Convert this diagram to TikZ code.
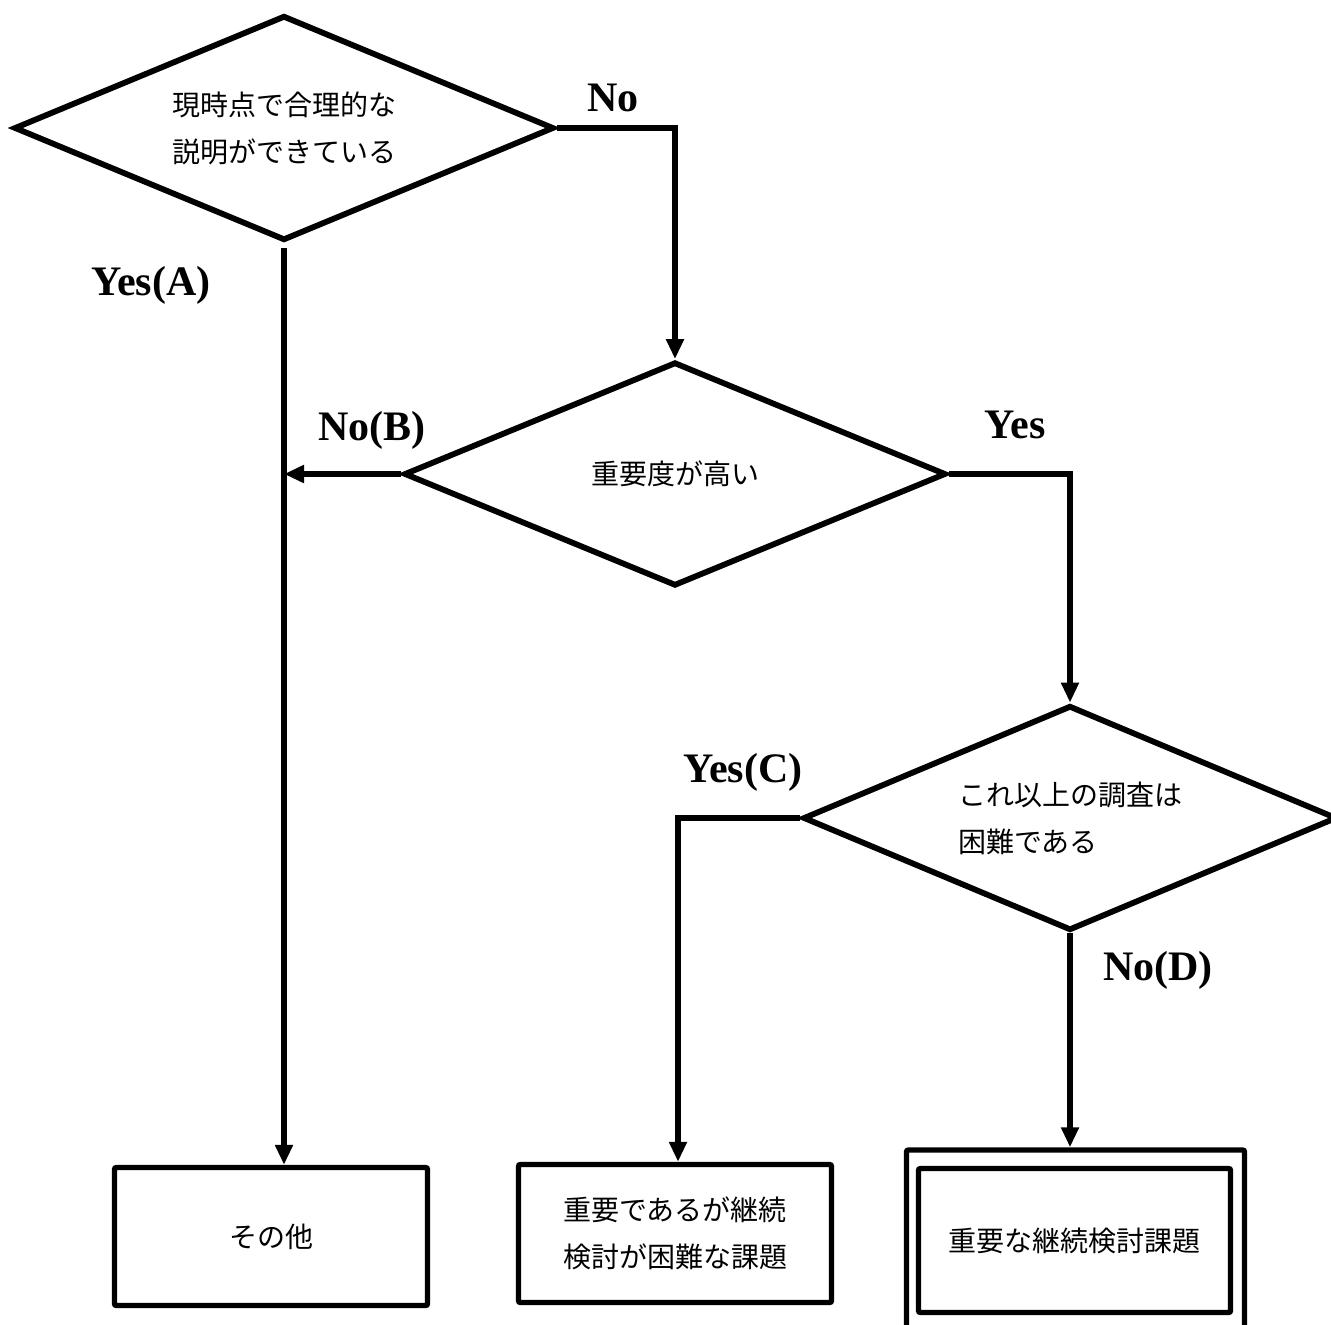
\documentclass[tikz,border=0pt]{standalone}
\usepackage{fontspec}
\newfontfamily\jp{Noto Sans CJK JP}
\newfontfamily\lbl{Liberation Serif}
\usetikzlibrary{shapes.geometric,arrows.meta}
\tikzset{
  dec/.style={draw,line width=2.9pt,shape=diamond,aspect=2.4,inner sep=0pt,
    font=\jp\fontsize{14pt}{23.5pt}\selectfont,align=left},
  endbox/.style={draw,line width=2.7pt,rectangle,rounded corners=1pt,inner sep=0pt,
    font=\jp\fontsize{14pt}{23.5pt}\selectfont,align=left},
  lab/.style={font=\lbl\bfseries\fontsize{21pt}{24pt}\selectfont,inner sep=0pt},
  arr/.style={line width=2.7pt,-{Triangle[length=10pt,width=8.5pt]}},
  conn/.style={line width=2.7pt}
}
\begin{document}
\begin{tikzpicture}[x=0.5pt,y=-0.5pt]
\useasboundingbox (0,0) rectangle (1331,1324);
% decisions
\node[dec,minimum width=270pt,minimum height=112.5pt] (d1) at (284,128)
  {\raisebox{-2pt}{現時点で合理的な}\\\raisebox{-2pt}{説明ができている}};
\node[dec,minimum width=271pt,minimum height=112pt] (d2) at (675,474)
  {重要度が高い};
\node[dec,minimum width=267pt,minimum height=112.5pt] (d3) at (1070,818)
  {\raisebox{-1.5pt}{これ以上の調査は}\\\raisebox{-1.5pt}{困難である}};
% end boxes
\node[endbox,minimum width=156.5pt,minimum height=69pt] (b1) at (271,1236.5) {その他};
\node[endbox,minimum width=156.5pt,minimum height=69pt] (b2) at (675,1233.5)
  {重要であるが継続\\検討が困難な課題};
\node[endbox,minimum width=169pt,minimum height=95pt] (b3o) at (1075.5,1245) {};
\node[endbox,minimum width=156pt,minimum height=72pt] (b3) at (1074.5,1240.5)
  {重要な継続検討課題};
% connectors
\draw[arr] (d1.east) -| (d2.north);
\draw[arr] ([yshift=-2.5pt]d1.south) -- (d1.south |- b1.north);
\draw[arr] (d2.west) -- (d2.west -| d1.south);
\draw[arr] (d2.east) -| (d3.north);
\draw[arr] (d3.west) -| ([xshift=1.5pt]b2.north);
\draw[arr] (d3.south) -- (d3.south |- b3o.north);
% labels
\node[lab] (lno) at (613,98) {No};
\node[lab] (lya) at (151,285) {Yes(A)};
\node[lab] (lnb) at (372,430) {No(B)};
\node[lab] (lyes) at (1015,425) {Yes};
\node[lab] (lyc) at (743,772) {Yes(C)};
\node[lab] (lnd) at (1158,970) {No(D)};
\end{tikzpicture}
\end{document}
